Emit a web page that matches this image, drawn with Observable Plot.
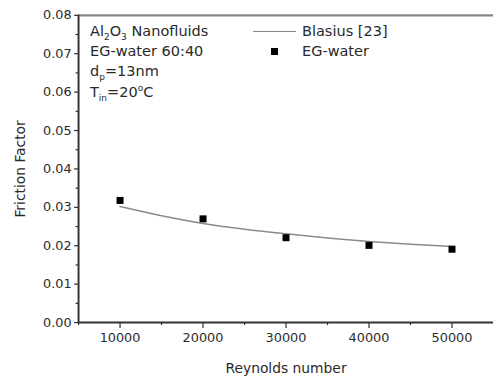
<!DOCTYPE html>
<html>
<head>
<meta charset="utf-8">
<script src="https://cdn.jsdelivr.net/npm/d3@7"></script>
<script src="https://cdn.jsdelivr.net/npm/@observablehq/plot@0.6"></script>
<style>
  html, body { margin: 0; padding: 0; background: #fff; }
  #wrap { position: relative; width: 493px; height: 381px; overflow: hidden; font-family: "DejaVu Sans", sans-serif; color: #2a2a2a; }
  #wrap svg { position: absolute; left: 0; top: 0; }
  .note { position: absolute; left: 90px; top: 21px; font-size: 14.5px; line-height: 20.2px; white-space: nowrap; }
  .note .sb { font-size: 9px; position: relative; top: 4px; line-height: 0; }
  .note .sp { font-size: 9px; position: relative; top: -6px; line-height: 0; }
  .leg { position: absolute; font-size: 14.5px; white-space: nowrap; }
  .legline { position: absolute; height: 0; border-top: 1.5px solid #888; }
  .legsq { position: absolute; width: 7px; height: 7px; background: #000; }
</style>
</head>
<body>
<div id="wrap"></div>
<script>
// ---- data ----
const reynolds = [10000, 20000, 30000, 40000, 50000];
const egWater  = [0.0318, 0.0270, 0.0221, 0.0201, 0.0191];
const blasiusRe = [10000, 15000, 20000, 25000, 30000, 35000, 40000, 45000, 50000];
const blasiusF  = [0.0302, 0.0278, 0.0258, 0.0243, 0.0231, 0.0220, 0.0211, 0.0204, 0.0198];
const xTicks = [10000, 20000, 30000, 40000, 50000];
const xMinor = [5000, 15000, 25000, 35000, 45000];
const yTicks = [0, 0.01, 0.02, 0.03, 0.04, 0.05, 0.06, 0.07, 0.08];
const yMinor = [0.005, 0.015, 0.025, 0.035, 0.045, 0.055, 0.065, 0.075];
const xLabel = "Reynolds number";
const yLabel = "Friction Factor";

const measured = reynolds.map((re, i) => ({re, f: egWater[i]}));
const blasius = blasiusRe.map((re, i) => ({re, f: blasiusF[i]}));

const chart = Plot.plot({
  width: 499,
  height: 381,
  marginLeft: 79,
  marginRight: 0,
  marginTop: 15,
  marginBottom: 55,
  style: {fontFamily: "DejaVu Sans, sans-serif", fontSize: "13px", color: "#2a2a2a", background: "transparent"},
  x: {domain: [5000, 55000]},
  y: {domain: [0, 0.08]},
  marks: [
    Plot.axisY({ticks: yTicks, tickSize: 4, tickPadding: 3, tickFormat: d3.format(".2f"), fontSize: 13,
      label: yLabel, labelAnchor: "center", labelArrow: "none", labelOffset: 64, strokeWidth: 1.2}),
    Plot.axisY({ticks: yMinor, tickSize: 2.5, text: null, label: null, strokeWidth: 1.2}),
    Plot.axisX({ticks: xTicks, tickSize: 6, tickPadding: 4, tickFormat: d => String(d), fontSize: 13,
      label: xLabel, labelAnchor: "center", labelArrow: "none", labelOffset: 51, strokeWidth: 1.2}),
    Plot.axisX({ticks: xMinor, tickSize: 3, text: null, label: null, strokeWidth: 1.2}),
    Plot.ruleY([0.08], {stroke: "#858585", strokeWidth: 2.2}),
    Plot.ruleX([5000], {stroke: "#333", strokeWidth: 2}),
    Plot.ruleY([0], {stroke: "#333", strokeWidth: 2}),
    Plot.line(blasius, {x: "re", y: "f", stroke: "#8a8a8a", strokeWidth: 1.5, curve: "natural"}),
    Plot.dot(measured, {x: "re", y: "f", symbol: "square", fill: "#000", stroke: "none", r: 4})
  ]
});
const wrap = document.getElementById("wrap");
wrap.appendChild(chart);
chart.querySelectorAll("[aria-label='x-axis label'] text, [aria-label='y-axis label'] text").forEach(t => {
  t.setAttribute("font-size", "14");
  t.textContent = t.textContent.replace(/\s*[→↑←↓]\s*/g, "").trim();
});

// annotation and legend (text)
const note = document.createElement("div");
note.className = "note";
note.innerHTML = 'Al<span class="sb">2</span>O<span class="sb">3</span> Nanofluids<br>EG-water 60:40<br>d<span class="sb">p</span>=13nm<br>T<span class="sb">in</span>=20<span class="sp">o</span>C';
wrap.appendChild(note);

const legendItems = [{label: "Blasius [23]", kind: "line"}, {label: "EG-water", kind: "square"}];
legendItems.forEach((item, i) => {
  const top = 21 + i * 20;
  const t = document.createElement("div");
  t.className = "leg";
  t.style.left = "302px";
  t.style.top = top + "px";
  t.style.lineHeight = "20.2px";
  t.textContent = item.label;
  wrap.appendChild(t);
  const s = document.createElement("div");
  if (item.kind === "line") {
    s.className = "legline";
    s.style.left = "253px"; s.style.width = "43px"; s.style.top = (top + 10) + "px";
  } else {
    s.className = "legsq";
    s.style.left = "271px"; s.style.top = (top + 7) + "px";
  }
  wrap.appendChild(s);
});
</script>
</body>
</html>
